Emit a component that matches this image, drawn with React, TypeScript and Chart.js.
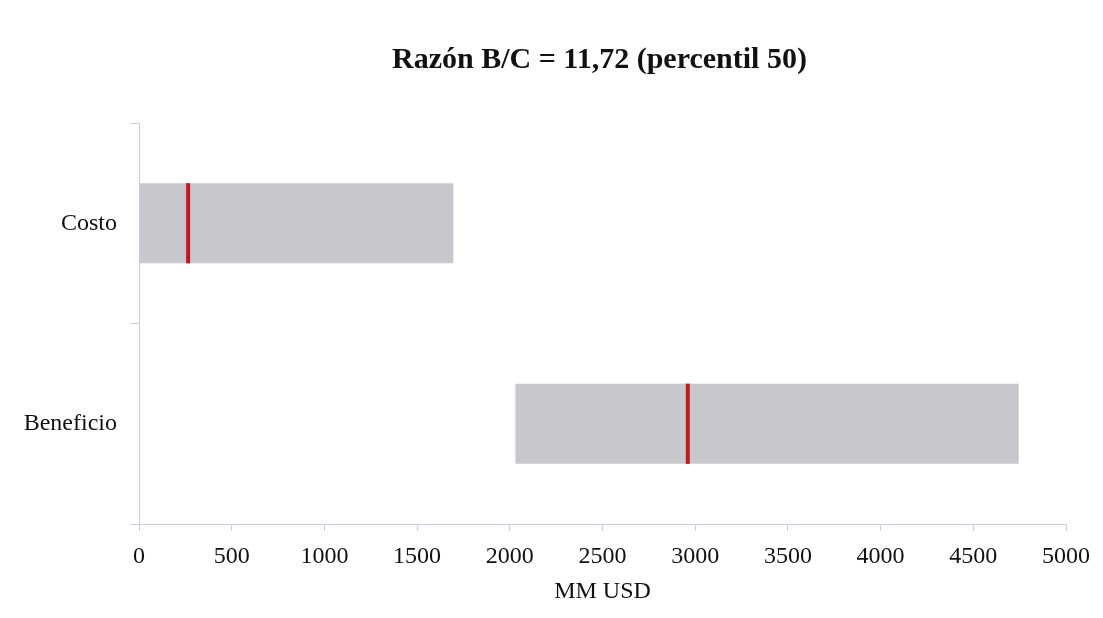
import React, { useEffect, useRef } from "react";
import { Chart, registerables } from "chart.js";

Chart.register(...registerables);

const categories = ["Costo", "Beneficio"];
const rangeLow = [0, 2030];
const rangeHigh = [1695, 4745];
const medians = [265, 2960];
const xTicks = [0, 500, 1000, 1500, 2000, 2500, 3000, 3500, 4000, 4500, 5000];
const titleText = "Razón B/C = 11,72 (percentil 50)";
const xTitle = "MM USD";

const FONT = "'Liberation Serif', 'Times New Roman', serif";

const medianPlugin = {
  id: "medianLines",
  afterDatasetsDraw(chart: any) {
    const ctx = chart.ctx;
    const meta = chart.getDatasetMeta(0);
    const xs = chart.scales.x;
    ctx.save();
    ctx.fillStyle = "#c4161c";
    meta.data.forEach((bar: any, i: number) => {
      const px = xs.getPixelForValue(medians[i]);
      const h = bar.height;
      ctx.fillRect(px - 2, bar.y - h / 2, 4, h);
    });
    ctx.restore();
  },
};

const titlePlugin = {
  id: "centeredTitle",
  afterDraw(chart: any) {
    const ctx = chart.ctx;
    const a = chart.chartArea;
    ctx.save();
    ctx.fillStyle = "#111";
    ctx.font = `bold 30px ${FONT}`;
    ctx.textAlign = "center";
    ctx.textBaseline = "middle";
    ctx.fillText(titleText, (a.left + a.right) / 2 - 3, 60);
    ctx.restore();
  },
};

export default function App() {
  const ref = useRef<HTMLCanvasElement>(null);
  useEffect(() => {
    const chart = new Chart(ref.current!, {
      type: "bar",
      data: {
        labels: categories,
        datasets: [
          {
            data: categories.map((_, i) => [rangeLow[i], rangeHigh[i]]) as any,
            backgroundColor: "#c7c8cd",
            borderWidth: 0,
            barPercentage: 0.4,
            categoryPercentage: 1,
          },
        ],
      },
      options: {
        indexAxis: "y",
        animation: false,
        responsive: false,
        layout: { padding: { left: 0, right: 37, top: 123, bottom: 0 } },
        plugins: {
          legend: { display: false },
          tooltip: { enabled: false },
          title: { display: false },
        },
        scales: {
          x: {
            min: 0,
            max: 5000,
            afterBuildTicks: (s: any) => {
              s.ticks = xTicks.map((v) => ({ value: v }));
            },
            afterFit: (s: any) => {
              s.height = 94;
              s.paddingLeft = 0;
              s.paddingRight = 0;
            },
            grid: {
              drawOnChartArea: false,
              drawTicks: true,
              tickLength: 7,
              color: "#c9cedd",
            },
            border: { color: "#c9cedd", width: 1 },
            ticks: {
              color: "#111",
              font: { family: FONT, size: 24 },
              padding: 11,
              maxRotation: 0,
              autoSkip: false,
              callback: (v: any) => String(v),
            },
            title: {
              display: true,
              text: xTitle,
              color: "#111",
              font: { family: FONT, size: 24 },
              padding: { top: 0, bottom: 12 },
            },
          },
          y: {
            afterFit: (s: any) => {
              s.width = 139;
            },
            offset: true,
            grid: {
              drawOnChartArea: false,
              drawTicks: true,
              tickLength: 8,
              offset: true,
              color: "#c9cedd",
            },
            border: { color: "#c9cedd", width: 1 },
            ticks: {
              color: "#111",
              font: { family: FONT, size: 24 },
              padding: 14,
            },
          },
        },
      },
      plugins: [medianPlugin, titlePlugin],
    });
    return () => chart.destroy();
  }, []);
  return (
    <div style={{ position: "fixed", left: 0, top: 0, width: 1103, height: 618, background: "#fff" }}>
      <canvas ref={ref} width={1103} height={618} style={{ display: "block" }} />
    </div>
  );
}
